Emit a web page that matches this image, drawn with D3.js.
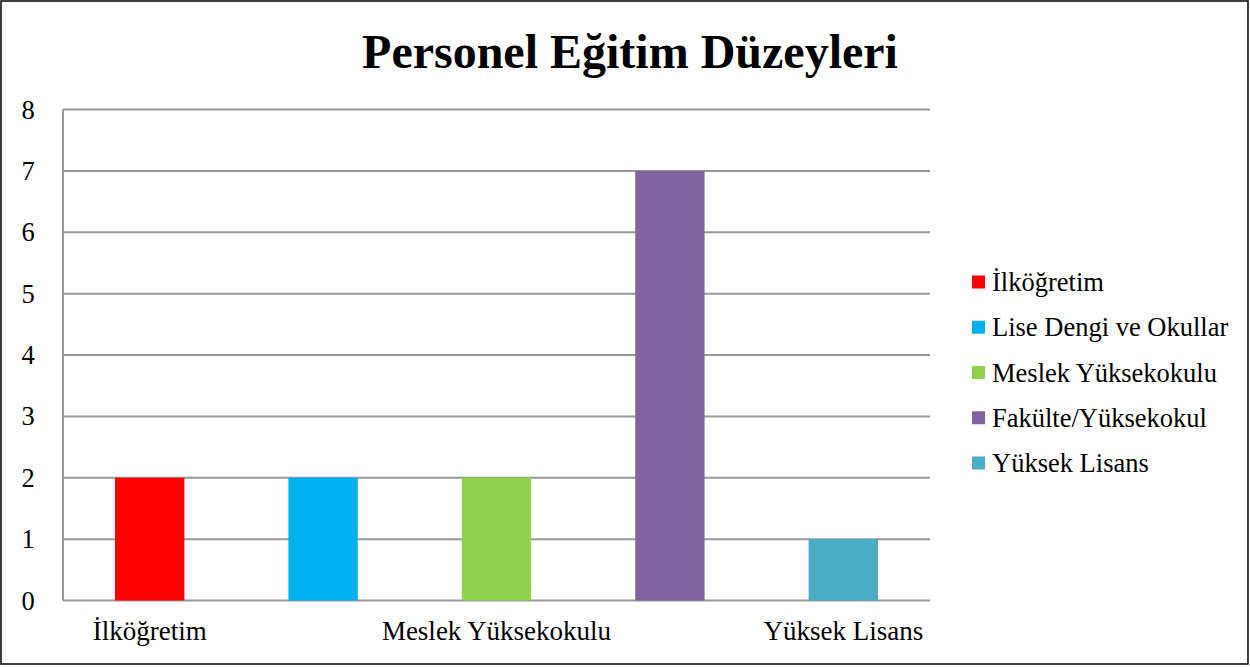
<!DOCTYPE html>
<html><head><meta charset="utf-8">
<script src="https://cdn.jsdelivr.net/npm/d3@7"></script>
<style>body{margin:0;background:#fff}svg{display:block}</style>
</head><body>
<svg id="c" width="1250" height="667"></svg>
<script>
const categories = ["İlköğretim","Lise Dengi ve Okullar","Meslek Yüksekokulu","Fakülte/Yüksekokul","Yüksek Lisans"];
const values = [2,2,2,7,1];
const colors = ["#FF0000","#00B0F0","#92D050","#8064A2","#4BACC6"];
const yTicks = [0,1,2,3,4,5,6,7,8];
const xLabelShown = ["İlköğretim","Meslek Yüksekokulu","Yüksek Lisans"];
const title = "Personel Eğitim Düzeyleri";

const svg = d3.select("#c");
const font = "'Liberation Serif','Times New Roman',serif";
svg.append("rect").attr("x",1).attr("y",1).attr("width",1247).attr("height",663)
  .attr("fill","#fff").attr("stroke","#000").attr("stroke-width",1.5);

const L=63,R=930,T=109.5,B=600.5;
const x = d3.scaleBand().domain(categories).range([L,R]).paddingInner(0.6).paddingOuter(0.3);
const y = d3.scaleLinear().domain([0,8]).range([B,T]);

svg.append("text").attr("x",630).attr("y",68).attr("text-anchor","middle")
  .attr("font-family",font).attr("font-weight","bold").attr("font-size",48).text(title);

const g = svg.append("g");
g.selectAll("line.grid").data(yTicks).join("line")
  .attr("x1",L).attr("x2",R).attr("y1",d=>y(d)).attr("y2",d=>y(d))
  .attr("stroke","#999").attr("stroke-width",2);
g.append("line").attr("x1",L).attr("x2",L).attr("y1",T).attr("y2",B).attr("stroke","#999").attr("stroke-width",2);

g.selectAll("text.yl").data(yTicks).join("text")
  .attr("x",28).attr("y",d=>y(d)+9).attr("text-anchor","middle")
  .attr("font-family",font).attr("font-size",26.5).text(d=>d);

g.selectAll("rect.bar").data(categories).join("rect")
  .attr("x",d=>x(d)).attr("width",x.bandwidth())
  .attr("y",(d,i)=>y(values[i])).attr("height",(d,i)=>y(0)-y(values[i]))
  .attr("fill",(d,i)=>colors[i]);

g.selectAll("text.xl").data(xLabelShown).join("text")
  .attr("x",d=>x(d)+x.bandwidth()/2).attr("y",640).attr("text-anchor","middle")
  .attr("font-family",font).attr("font-size",27).text(d=>d);

const lg = svg.append("g");
const ly = d3.scalePoint().domain(categories).range([282,463]);
lg.selectAll("rect").data(categories).join("rect")
  .attr("x",972).attr("y",d=>ly(d)-6.5).attr("width",13).attr("height",13)
  .attr("fill",(d,i)=>colors[i]);
lg.selectAll("text").data(categories).join("text")
  .attr("x",992).attr("y",d=>ly(d)+9).attr("font-family",font).attr("font-size",26.5).text(d=>d);
</script>
</body></html>
